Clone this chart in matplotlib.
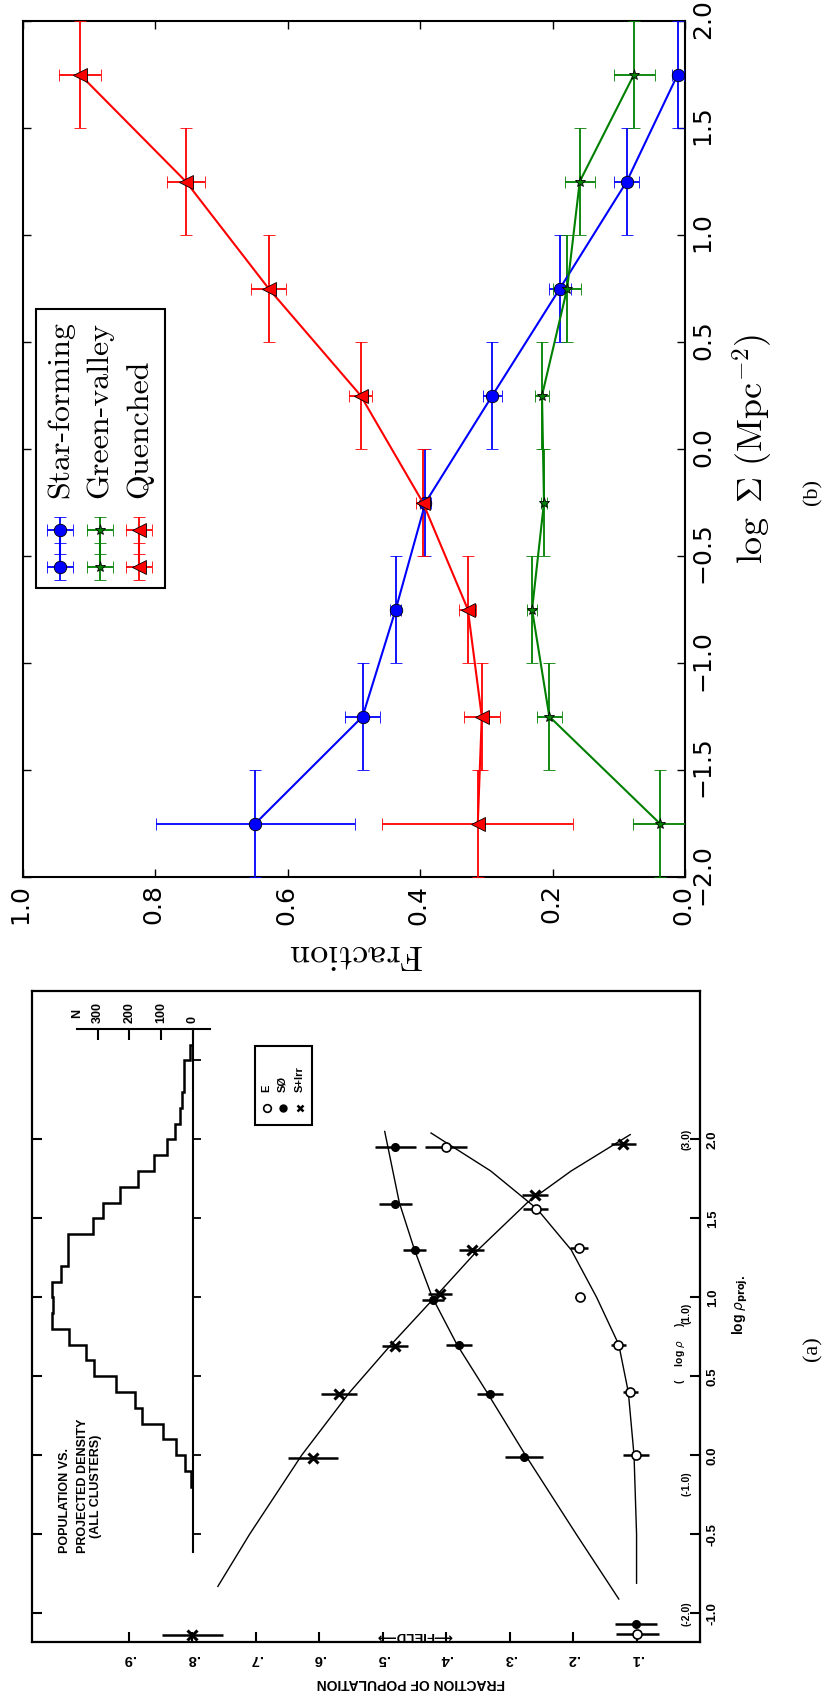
import numpy as np
import matplotlib
matplotlib.use("Agg")
import matplotlib.pyplot as plt
from matplotlib.patches import Rectangle
from matplotlib.markers import TICKRIGHT, TICKDOWN

plt.rcParams['mathtext.fontset'] = 'cm'
plt.rcParams['axes.formatter.use_mathtext'] = True
plt.rcParams['axes.unicode_minus'] = True

# ---------------- Panel (b): galaxy fractions vs. surface density ----------------
log_sigma = [-1.75, -1.25, -0.75, -0.25, 0.25, 0.75, 1.25, 1.75]
log_sigma_halfwidth = [0.25, 0.25, 0.25, 0.25, 0.25, 0.25, 0.25, 0.25]

frac_sf = [0.649, 0.487, 0.437, 0.392, 0.291, 0.189, 0.088, 0.011]
frac_sf_err = [0.150, 0.027, 0.008, 0.008, 0.014, 0.017, 0.019, 0.009]
frac_gv = [0.038, 0.205, 0.231, 0.213, 0.216, 0.178, 0.159, 0.077]
frac_gv_err = [0.040, 0.019, 0.008, 0.005, 0.011, 0.021, 0.023, 0.031]
frac_q = [0.313, 0.307, 0.328, 0.396, 0.490, 0.629, 0.754, 0.914]
frac_q_err = [0.144, 0.027, 0.013, 0.010, 0.017, 0.026, 0.029, 0.032]

labels_b = ['Star-forming', 'Green-valley', 'Quenched']
colors_b = ['b', 'g', 'r']
markers_b = ['o', '*', '<']
msizes_b = [9, 8, 10]

# ---------------- Panel (a): morphology fractions vs. projected density ----------------
lrho_e = [0.0, 0.40, 0.70, 1.00, 1.31, 1.56, 1.95]
f_e = [0.101, 0.110, 0.129, 0.189, 0.191, 0.259, 0.400]
f_e_err = [0.021, 0.012, 0.012, 0.008, 0.014, 0.020, 0.033]

lrho_s0 = [-0.01, 0.39, 0.70, 0.98, 1.30, 1.59, 1.95]
f_s0 = [0.278, 0.331, 0.380, 0.421, 0.450, 0.480, 0.480]
f_s0_err = [0.030, 0.021, 0.020, 0.018, 0.018, 0.026, 0.033]

lrho_sirr = [-0.02, 0.385, 0.69, 1.02, 1.30, 1.645, 1.97]
f_sirr = [0.610, 0.569, 0.481, 0.410, 0.360, 0.260, 0.121]
f_sirr_err = [0.039, 0.029, 0.020, 0.019, 0.020, 0.020, 0.020]

# field values (plotted at the low-density end)
field_lrho = [-1.13, -1.07, -1.14]
field_f = [0.099, 0.101, 0.800]
field_f_err = [0.034, 0.033, 0.048]

# smooth fitted relations
curve_e_lrho = [-0.81, -0.5, 0.0, 0.4, 0.7, 1.0, 1.3, 1.56, 1.8, 2.04]
curve_e_f = [0.100, 0.100, 0.104, 0.113, 0.128, 0.163, 0.203, 0.257, 0.330, 0.424]
curve_s0_lrho = [-0.91, -0.5, 0.0, 0.4, 0.7, 1.0, 1.3, 1.6, 2.05]
curve_s0_f = [0.128, 0.195, 0.275, 0.336, 0.383, 0.422, 0.450, 0.474, 0.497]
curve_sirr_lrho = [-0.83, -0.5, 0.0, 0.4, 0.7, 1.0, 1.3, 1.6, 1.8, 2.03]
curve_sirr_f = [0.760, 0.710, 0.628, 0.552, 0.487, 0.418, 0.350, 0.272, 0.203, 0.110]

# galaxy counts per 0.1 dex bin of projected density
hist_edges = [-0.2, -0.1, 0.0, 0.1, 0.2, 0.3, 0.4, 0.5, 0.6, 0.7, 0.8, 0.9, 1.0,
              1.1, 1.2, 1.3, 1.4, 1.5, 1.6, 1.7, 1.8, 1.9, 2.0, 2.1, 2.2, 2.3,
              2.4, 2.5, 2.6]
hist_counts = [6, 23, 53, 93, 159, 182, 242, 312, 335, 390, 445, 440, 445, 416,
               393, 393, 314, 284, 230, 172, 121, 82, 54, 40, 32, 26, 26, 8]
n_ticks = [0, 100, 200, 300]

frac_ticks_a = [0.1, 0.2, 0.3, 0.4, 0.5, 0.6, 0.7, 0.8, 0.9]
frac_ticklabels_a = ['.1', '.2', '.3', '.4', '.5', '.6', '.7', '.8', '.9']
lrho_ticks_a = [-1.0, -0.5, 0.0, 0.5, 1.0, 1.5, 2.0]
lrho_ticklabels_a = ['-1.0', '-0.5', '0.0', '0.5', '1.0', '1.5', '2.0']
baseline_ticks = [-0.5, 0.0, 0.5, 1.0, 1.5, 2.0, 2.5]

W, H = 824, 1697
fig = plt.figure(figsize=(W / 100, H / 100), dpi=100)

# ======================= panel (b) =======================
axb = fig.add_axes([23 / W, 1 - 877 / H, 662 / W, 856 / H])
for f, fe, c, m, ms in zip([frac_sf, frac_gv, frac_q],
                           [frac_sf_err, frac_gv_err, frac_q_err],
                           colors_b, markers_b, msizes_b):
    axb.errorbar(f, log_sigma, xerr=fe, yerr=log_sigma_halfwidth, color=c,
                 marker=m, ms=ms, mec='k', mew=0.6, lw=1.5, elinewidth=1.3,
                 capsize=4, capthick=1.3, zorder=3)

axb.set_xlim(1.0, 0.0)
axb.set_ylim(-2.0, 2.0)
axb.set_xticks([0.0, 0.2, 0.4, 0.6, 0.8, 1.0])
axb.set_yticks([-2.0, -1.5, -1.0, -0.5, 0.0, 0.5, 1.0, 1.5, 2.0])
axb.tick_params(direction='in', length=6, width=1.0, top=True, right=True,
                left=True, bottom=True, labelleft=False, labelright=True,
                labelsize=18)
axb.tick_params(axis='x', labelrotation=90, pad=7)
axb.tick_params(axis='y', labelrotation=90, pad=6)
for lbl in axb.get_yticklabels():
    lbl.set_va('center')
for sp in axb.spines.values():
    sp.set_linewidth(1.5)

axb.set_xlabel('Fraction', fontfamily='cmr10', fontsize=26, rotation=180,
               labelpad=8)
axb.yaxis.set_label_position('right')
axb.set_ylabel(r'$\log\ \Sigma\ (\mathrm{Mpc}^{-2})$', fontsize=26, labelpad=10)

# legend, laid out along the rotated frame
axb.add_patch(Rectangle((0.0196, 0.3376), 0.1949, 0.3260, transform=axb.transAxes,
                        fc='white', ec='k', lw=1.5, zorder=1))
leg_x = [0.0559, 0.1163, 0.1752]
for xf, lab, c, m, ms in zip(leg_x, labels_b, colors_b, markers_b, msizes_b):
    axb.text(xf, 0.4428, lab, rotation=90, ha='center', va='bottom',
             transform=axb.transAxes, fontfamily='cmr10', fontsize=23, zorder=4)
    fx = 1.0 - xf
    axb.errorbar([fx, fx], [-0.379, -0.553], xerr=0.0196, yerr=0.061, color=c,
                 marker=m, ms=ms, mec='k', mew=0.6, lw=1.5, elinewidth=1.3,
                 capsize=4, capthick=1.3, zorder=3)

# ======================= panel (a) =======================
bold = dict(fontfamily=['Liberation Sans', 'DejaVu Sans'], fontweight='bold')
axa = fig.add_axes([32 / W, 1 - 1642 / H, 668 / W, 651 / H])

for lr, f in [(curve_e_lrho, curve_e_f), (curve_s0_lrho, curve_s0_f),
              (curve_sirr_lrho, curve_sirr_f)]:
    axa.plot(f, lr, 'k-', lw=1.0)

ebk = dict(ecolor='k', elinewidth=1.8, capsize=0, ls='none')
axa.errorbar(f_e, lrho_e, xerr=f_e_err, marker='o', mfc='white', mec='k',
             ms=6.5, mew=1.2, zorder=4, **ebk)
axa.errorbar(f_s0, lrho_s0, xerr=f_s0_err, marker='o', mfc='k', mec='k',
             ms=5.5, zorder=4, **ebk)
axa.errorbar(f_sirr, lrho_sirr, xerr=f_sirr_err, marker='x', mec='k', ms=6.5,
             mew=2.2, zorder=4, **ebk)
axa.errorbar(field_f[0], field_lrho[0], xerr=field_f_err[0], marker='o',
             mfc='white', mec='k', ms=6.5, mew=1.2, zorder=4, **ebk)
axa.errorbar(field_f[1], field_lrho[1], xerr=field_f_err[1], marker='o',
             mfc='k', mec='k', ms=5.5, zorder=4, **ebk)
axa.errorbar(field_f[2], field_lrho[2], xerr=field_f_err[2], marker='x',
             mec='k', ms=6.5, mew=2.2, zorder=4, **ebk)
axa.text(0.45, -1.14, '\u27f5FIELD\u27f6', rotation=180, ha='center',
         va='center', fontsize=9.5, **bold)

axa.set_xticks(frac_ticks_a)
axa.set_xticklabels(frac_ticklabels_a, fontsize=10.5, **bold)
axa.set_yticks(lrho_ticks_a)
axa.set_yticklabels(lrho_ticklabels_a, fontsize=9.5, **bold)
axa.tick_params(direction='in', length=7, width=1.5, top=True, right=True,
                left=True, bottom=True, labelleft=False, labelright=True)
axa.tick_params(axis='x', labelrotation=180, pad=7)
axa.tick_params(axis='y', labelrotation=90, pad=5)
for lbl in axa.get_yticklabels():
    lbl.set_va('center')
for sp in axa.spines.values():
    sp.set_linewidth(1.6)

axa.text(0.567, -0.063, 'FRACTION OF POPULATION', rotation=180, ha='center',
         va='center', transform=axa.transAxes, fontsize=10, **bold)
axa.text(1.060, 0.518, r'log $\rho_{\mathbf{proj.}}$', rotation=90,
         ha='center', va='center', transform=axa.transAxes, fontsize=10,
         math_fontfamily='dejavusans', **bold)

# secondary (volume density) scale inside the frame
for lr, s in [(-1.0, '(-2.0)'), (-0.18, '(-1.0)'), (0.90, '(1.0)'), (2.0, '(3.0)')]:
    axa.text(0.0205, lr, s, rotation=90, ha='center', va='center',
             fontsize=7.5, **bold)
axa.text(0.031, 0.65, r'(     log $\rho$     )', rotation=90, ha='center',
         va='center', fontsize=7.5, math_fontfamily='dejavusans', **bold)

# title block
axa.text(1.0016, -0.62, 'POPULATION VS.', rotation=90, ha='center', va='bottom',
         fontsize=9, **bold)
axa.text(0.973, -0.62, 'PROJECTED DENSITY', rotation=90, ha='center',
         va='bottom', fontsize=9, **bold)
axa.text(0.952, -0.525, '(ALL CLUSTERS)', rotation=90, ha='center', va='bottom',
         fontsize=9, **bold)

# key
axa.add_patch(Rectangle((0.612, 2.09), 0.090, 0.50, fc='white', ec='k', lw=1.5,
                        zorder=3))
for fx, s, mk in [(0.683, 'E', 'open'), (0.658, 'S\u00d8', 'dot'),
                  (0.631, 'S+Irr', 'x')]:
    if mk == 'open':
        axa.plot(fx, 2.196, 'o', mfc='white', mec='k', ms=5.5, mew=1.2, zorder=4)
    elif mk == 'dot':
        axa.plot(fx, 2.196, 'o', mfc='k', mec='k', ms=5, zorder=4)
    else:
        axa.plot(fx, 2.196, 'x', mec='k', ms=5, mew=1.8, zorder=4)
    axa.text(fx, 2.30, s, rotation=90, ha='center', va='bottom', fontsize=8,
             zorder=4, **bold)

# histogram of the galaxy counts, on its own count scale
axh = axa.twiny()
axh.stairs(hist_counts, hist_edges, orientation='horizontal', baseline=0,
           color='k', lw=1.8)
axh.plot([0, 0], [-0.61, 2.70], 'k-', lw=1.5)
axh.plot([0] * len(baseline_ticks), baseline_ticks, ls='none', marker=TICKRIGHT,
         ms=6, mew=1.3, color='k')
axh.plot([-54, 366], [2.70, 2.70], 'k-', lw=1.5)
axh.plot(n_ticks, [2.70] * len(n_ticks), ls='none', marker=TICKDOWN, ms=8,
         mew=1.5, color='k')
for n in n_ticks:
    axh.text(n, 2.735, str(n), rotation=90, ha='center', va='bottom',
             fontsize=9, **bold)
axh.text(365, 2.77, 'N', rotation=90, ha='center', va='bottom', fontsize=9,
         **bold)
axh.set_xlim(507, -1602)
axh.set_axis_off()

axa.set_xlim(1.053, 0.0)
axa.set_ylim(-1.182, 2.939)

fig.text(813 / W, 1 - 492 / H, '(b)', rotation=90, ha='center', va='center',
         fontfamily='Liberation Serif', fontsize=16)
fig.text(813 / W, 1 - 1349 / H, '(a)', rotation=90, ha='center', va='center',
         fontfamily='Liberation Serif', fontsize=16)

fig.savefig('out.png', dpi=100)
